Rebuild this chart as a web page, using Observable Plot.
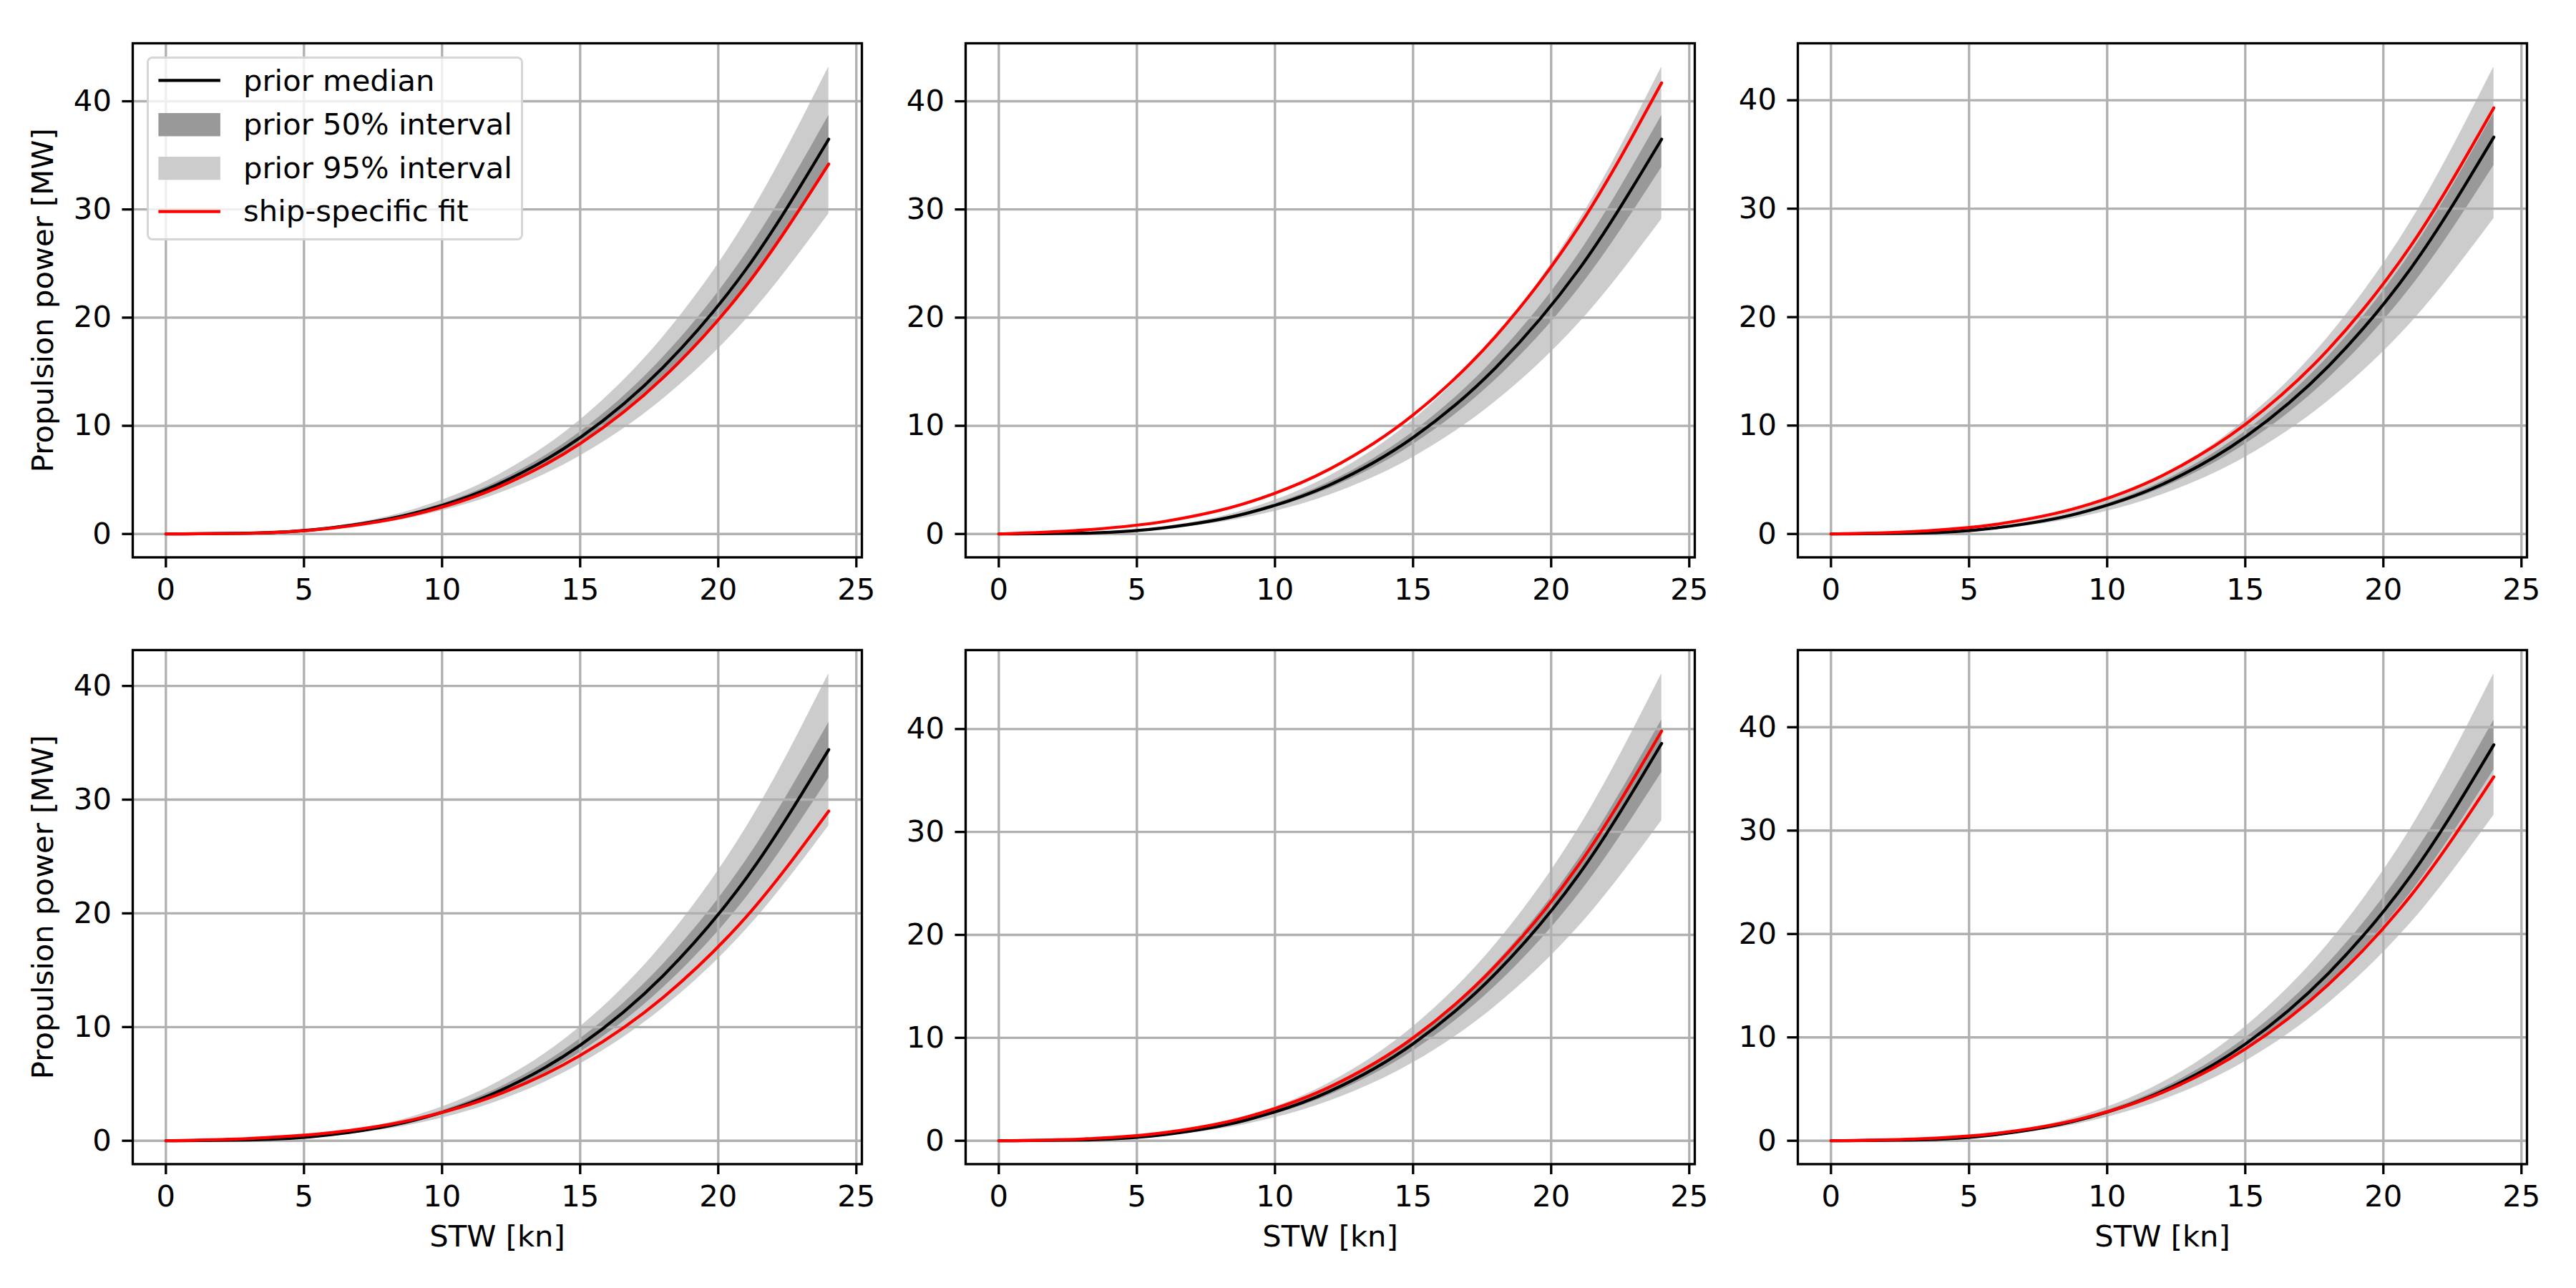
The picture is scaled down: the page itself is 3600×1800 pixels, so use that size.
<!DOCTYPE html>
<html>
<head>
<meta charset="utf-8">
<script src="https://cdn.jsdelivr.net/npm/d3@7"></script>
<script src="https://cdn.jsdelivr.net/npm/@observablehq/plot@0.6"></script>
<style>
  html, body { margin: 0; padding: 0; background: #fff; }
  #fig { position: relative; width: 3600px; height: 1800px; background: #fff; overflow: hidden; font-family: "DejaVu Sans", sans-serif; }
  #fig > svg, #fig > div { position: absolute; }
</style>
</head>
<body>
<div id="fig"></div>
<script>
// speed through water [kn]
const stw = [0, 3, 6, 9, 12, 15, 18, 21, 24];

// propulsion power [MW], one inner array per ship (panel order: row by row)
const priorMedian = [
  [0, 0.071, 0.570, 1.925, 4.56, 8.91, 15.40, 24.45, 36.5],
  [0, 0.071, 0.570, 1.925, 4.56, 8.91, 15.40, 24.45, 36.5],
  [0, 0.071, 0.572, 1.93, 4.58, 8.94, 15.44, 24.52, 36.6],
  [0, 0.067, 0.538, 1.81, 4.30, 8.40, 14.51, 23.05, 34.4],
  [0, 0.075, 0.603, 2.04, 4.83, 9.42, 16.28, 25.86, 38.6],
  [0, 0.075, 0.598, 2.02, 4.79, 9.35, 16.16, 25.66, 38.3]
];
const prior50Low = [
  [0, 0.066, 0.530, 1.79, 4.24, 8.28, 14.30, 22.71, 33.9],
  [0, 0.066, 0.530, 1.79, 4.24, 8.28, 14.30, 22.71, 33.9],
  [0, 0.066, 0.531, 1.79, 4.25, 8.30, 14.34, 22.78, 34.0],
  [0, 0.062, 0.498, 1.68, 3.99, 7.79, 13.46, 21.37, 31.9],
  [0, 0.070, 0.559, 1.89, 4.48, 8.74, 15.10, 23.98, 35.8],
  [0, 0.070, 0.561, 1.89, 4.49, 8.76, 15.15, 24.05, 35.9]
];
const prior50High = [
  [0, 0.076, 0.605, 2.04, 4.84, 9.45, 16.33, 25.93, 38.7],
  [0, 0.076, 0.605, 2.04, 4.84, 9.45, 16.33, 25.93, 38.7],
  [0, 0.076, 0.606, 2.05, 4.85, 9.47, 16.37, 25.99, 38.8],
  [0, 0.072, 0.575, 1.94, 4.60, 8.98, 15.53, 24.65, 36.8],
  [0, 0.080, 0.639, 2.16, 5.11, 9.99, 17.25, 27.40, 40.9],
  [0, 0.079, 0.636, 2.15, 5.09, 9.94, 17.17, 27.27, 40.7]
];
const prior95Low = [
  [0, 0.058, 0.463, 1.56, 3.70, 7.23, 12.49, 19.83, 29.6],
  [0, 0.057, 0.455, 1.53, 3.64, 7.10, 12.28, 19.49, 29.1],
  [0, 0.057, 0.455, 1.53, 3.64, 7.10, 12.28, 19.49, 29.1],
  [0, 0.054, 0.433, 1.46, 3.46, 6.76, 11.69, 18.56, 27.7],
  [0, 0.061, 0.486, 1.64, 3.89, 7.59, 13.12, 20.83, 31.1],
  [0, 0.062, 0.492, 1.66, 3.94, 7.69, 13.29, 21.10, 31.5]
];
const prior95High = [
  [0, 0.084, 0.675, 2.28, 5.40, 10.55, 18.23, 28.94, 43.2],
  [0, 0.084, 0.675, 2.28, 5.40, 10.55, 18.23, 28.94, 43.2],
  [0, 0.084, 0.673, 2.27, 5.39, 10.52, 18.18, 28.87, 43.1],
  [0, 0.080, 0.642, 2.17, 5.14, 10.03, 17.34, 27.53, 41.1],
  [0, 0.089, 0.709, 2.39, 5.68, 11.08, 19.15, 30.41, 45.4],
  [0, 0.088, 0.706, 2.38, 5.65, 11.04, 19.07, 30.28, 45.2]
];
const shipFit = [
  [0, 0.067, 0.534, 1.80, 4.28, 8.35, 14.43, 22.91, 34.2],
  [0, 0.35, 1.16, 2.89, 6.02, 11.0, 18.3, 28.4, 41.7],
  [0, 0.22, 0.90, 2.47, 5.39, 10.1, 17.0, 26.6, 39.3],
  [0, 0.19, 0.71, 1.89, 4.04, 7.50, 12.60, 19.66, 29.0],
  [0, 0.17, 0.79, 2.33, 5.25, 9.99, 17.03, 26.81, 39.8],
  [0, 0.16, 0.72, 2.09, 4.67, 8.87, 15.09, 23.73, 35.2]
];

const xTicks = [0, 5, 10, 15, 20, 25];
const yTicks = [0, 10, 20, 30, 40];
const xLabel = "STW [kn]";
const yLabel = "Propulsion power [MW]";
const legendLabels = ["prior median", "prior 50% interval", "prior 95% interval", "ship-specific fit"];

// layout (pixels)
const colLeft = [185, 1348.5, 2512];
const rowTop = [60, 908.3];
const frameW = 1019, frameH = 718.4;
const mL = 160, mR = 20, mT = 20, mB = 140;
const FS = 41.7;       // 10pt at 300 dpi
const LW = 3.33;       // 0.8pt
const LINE = 4.2;      // 1pt

const fig = document.getElementById("fig");

for (let i = 0; i < 6; i++) {
  const row = Math.floor(i / 3), col = i % 3;
  const data = stw.map((v, j) => ({
    v,
    med: priorMedian[i][j],
    lo50: prior50Low[i][j], hi50: prior50High[i][j],
    lo95: prior95Low[i][j], hi95: prior95High[i][j],
    fit: shipFit[i][j]
  }));
  const xmin = d3.min(stw), xmax = d3.max(stw);
  const ymin = Math.min(0, d3.min(data, d => Math.min(d.lo95, d.fit)));
  const ymax = d3.max(data, d => Math.max(d.hi95, d.fit, d.med));
  const xpad = 0.05 * (xmax - xmin), ypad = 0.05 * (ymax - ymin);

  const marks = [
    Plot.areaY(data, {x: "v", y1: "lo95", y2: "hi95", fill: "#cccccc", curve: "monotone-x"}),
    Plot.areaY(data, {x: "v", y1: "lo50", y2: "hi50", fill: "#999999", curve: "monotone-x"}),
    Plot.gridX({ticks: xTicks, stroke: "#b0b0b0", strokeOpacity: 1, strokeWidth: LW}),
    Plot.gridY({ticks: yTicks, stroke: "#b0b0b0", strokeOpacity: 1, strokeWidth: LW}),
    Plot.line(data, {x: "v", y: "med", stroke: "black", strokeWidth: LINE, curve: "monotone-x"}),
    Plot.line(data, {x: "v", y: "fit", stroke: "#ff0000", strokeWidth: LINE, curve: "monotone-x"}),
    Plot.frame({stroke: "black", strokeWidth: LW}),
    Plot.axisX({ticks: xTicks, anchor: "bottom", tickSize: 14.6, tickPadding: 15, strokeWidth: LW, fontSize: FS, label: null}),
    Plot.axisY({ticks: yTicks, anchor: "left", tickSize: 14.6, tickPadding: 15, strokeWidth: LW, fontSize: FS, label: null})
  ];
  if (col === 0) {
    marks.push(Plot.text([yLabel], {frameAnchor: "left", dx: -125, rotate: -90, text: d => d,
      fontSize: FS, textAnchor: "middle", lineAnchor: "middle", fill: "black"}));
  }
  if (row === 1) {
    marks.push(Plot.text([xLabel], {frameAnchor: "bottom", dy: 102, text: d => d,
      fontSize: FS, textAnchor: "middle", lineAnchor: "middle", fill: "black"}));
  }

  const svg = Plot.plot({
    width: mL + frameW + mR,
    height: mT + frameH + mB,
    marginLeft: mL, marginRight: mR, marginTop: mT, marginBottom: mB,
    x: {domain: [xmin - xpad, xmax + xpad]},
    y: {domain: [ymin - ypad, ymax + ypad]},
    style: {background: "transparent", overflow: "visible", fontFamily: "DejaVu Sans", fontSize: FS + "px", color: "black", maxWidth: "none"},
    marks
  });
  svg.style.left = (colLeft[col] - mL) + "px";
  svg.style.top = (rowTop[row] - mT) + "px";
  fig.appendChild(svg);
}

// legend in the first panel
const LX = 205, LY = 79.3, LWID = 526, LHT = 257;
const lg = document.createElement("div");
Object.assign(lg.style, {
  left: LX + "px", top: LY + "px", width: LWID + "px", height: LHT + "px",
  boxSizing: "border-box", background: "rgba(255,255,255,0.8)",
  border: LW + "px solid rgba(204,204,204,0.8)", borderRadius: "8px"
});
fig.appendChild(lg);
const lsvg = d3.select(fig).append("svg")
  .style("left", LX + "px").style("top", LY + "px")
  .attr("width", LWID).attr("height", LHT)
  .style("overflow", "visible");
const baseY = [48, 109, 170, 230];
lsvg.append("line").attr("x1", 16.4).attr("x2", 102.9).attr("y1", 33.4).attr("y2", 33.4)
  .attr("stroke", "black").attr("stroke-width", LINE);
lsvg.append("rect").attr("x", 16.4).attr("y", 79).attr("width", 86.5).attr("height", 32.4).attr("fill", "#999999");
lsvg.append("rect").attr("x", 16.4).attr("y", 140).attr("width", 86.5).attr("height", 32.4).attr("fill", "#cccccc");
lsvg.append("line").attr("x1", 16.4).attr("x2", 102.9).attr("y1", 216.7).attr("y2", 216.7)
  .attr("stroke", "#ff0000").attr("stroke-width", LINE);
legendLabels.forEach((t, k) => {
  lsvg.append("text").attr("x", 135).attr("y", baseY[k]).text(t)
    .attr("font-family", "DejaVu Sans").attr("font-size", FS).attr("fill", "black");
});
</script>
</body>
</html>
